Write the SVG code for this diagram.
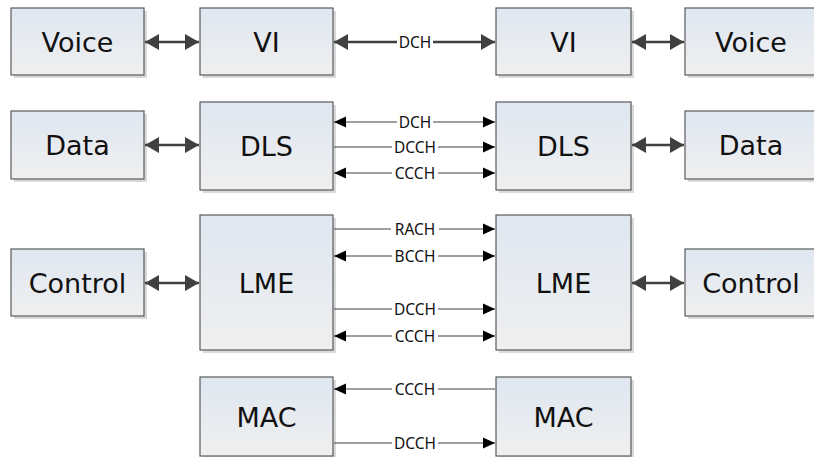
<svg xmlns="http://www.w3.org/2000/svg" width="814" height="457" viewBox="0 0 814 457">
<style>
.box{fill:url(#g);stroke:#5a5a5a;stroke-width:1.2}
.sh{fill:#d9d9d9}
.big{font-family:"DejaVu Sans",Verdana,sans-serif;font-size:27px;fill:#111;text-anchor:middle;dominant-baseline:central}
.lbl{font-family:"Noto Sans","Open Sans",sans-serif;font-size:15.5px;fill:#111;text-anchor:middle}
.bg{fill:#fff}
.thick{stroke:#404040;stroke-width:2.5;fill:none}
.thin{stroke:#404040;stroke-width:1.2;fill:none}
</style>
<defs>
<linearGradient id="g" x1="0" y1="0" x2="0" y2="1">
<stop offset="0" stop-color="#dfe7f1"/>
<stop offset="1" stop-color="#efefef"/>
</linearGradient>
<marker id="ab" markerUnits="userSpaceOnUse" markerWidth="16" markerHeight="18" refX="14" refY="8" orient="auto-start-reverse" viewBox="0 0 16 16">
<path d="M0,0 L14,8 L0,16 Z" fill="#404040"/>
</marker>
<marker id="as" markerUnits="userSpaceOnUse" markerWidth="13" markerHeight="12" refX="12" refY="5.5" orient="auto-start-reverse" viewBox="0 0 13 11">
<path d="M0,0 L12,5.5 L0,11 Z" fill="#000"/>
</marker>
</defs>

<g id="voice-l"><rect class="sh" x="14" y="11" width="133" height="67"/><rect class="box" x="11" y="8" width="133" height="67"/><text class="big" x="77.5" y="42">Voice</text></g>
<g id="vi-l"><rect class="sh" x="203" y="11" width="133" height="67"/><rect class="box" x="200" y="8" width="133" height="67"/><text class="big" x="266.5" y="42">VI</text></g>
<g id="vi-r"><rect class="sh" x="499" y="11" width="135" height="67"/><rect class="box" x="496" y="8" width="135" height="67"/><text class="big" x="563.5" y="42">VI</text></g>
<g id="voice-r"><rect class="sh" x="688" y="11" width="133" height="67"/><rect class="box" x="685" y="8" width="133" height="67"/><text class="big" x="751" y="42">Voice</text></g>

<g id="data-l"><rect class="sh" x="14" y="114" width="133" height="68"/><rect class="box" x="11" y="111" width="133" height="68"/><text class="big" x="77.5" y="145">Data</text></g>
<g id="dls-l"><rect class="sh" x="203" y="105" width="133" height="88"/><rect class="box" x="200" y="102" width="133" height="88"/><text class="big" x="266.5" y="146">DLS</text></g>
<g id="dls-r"><rect class="sh" x="499" y="105" width="135" height="88"/><rect class="box" x="496" y="102" width="135" height="88"/><text class="big" x="563.5" y="146">DLS</text></g>
<g id="data-r"><rect class="sh" x="688" y="114" width="133" height="68"/><rect class="box" x="685" y="111" width="133" height="68"/><text class="big" x="751" y="145">Data</text></g>

<g id="control-l"><rect class="sh" x="14" y="252" width="133" height="67"/><rect class="box" x="11" y="249" width="133" height="67"/><text class="big" x="77.5" y="283">Control</text></g>
<g id="lme-l"><rect class="sh" x="203" y="218" width="133" height="135"/><rect class="box" x="200" y="215" width="133" height="135"/><text class="big" x="266.5" y="283">LME</text></g>
<g id="lme-r"><rect class="sh" x="499" y="218" width="135" height="135"/><rect class="box" x="496" y="215" width="135" height="135"/><text class="big" x="563.5" y="283">LME</text></g>
<g id="control-r"><rect class="sh" x="688" y="252" width="133" height="67"/><rect class="box" x="685" y="249" width="133" height="67"/><text class="big" x="751" y="283">Control</text></g>

<g id="mac-l"><rect class="sh" x="203" y="380" width="133" height="79"/><rect class="box" x="200" y="377" width="133" height="79"/><text class="big" x="266.5" y="417">MAC</text></g>
<g id="mac-r"><rect class="sh" x="499" y="380" width="135" height="79"/><rect class="box" x="496" y="377" width="135" height="79"/><text class="big" x="563.5" y="417">MAC</text></g>

<g id="connectors">
<line class="thick" x1="145" y1="42" x2="199" y2="42" marker-start="url(#ab)" marker-end="url(#ab)"/>
<line class="thick" x1="632" y1="42" x2="684" y2="42" marker-start="url(#ab)" marker-end="url(#ab)"/>
<line class="thick" x1="145" y1="145" x2="199" y2="145" marker-start="url(#ab)" marker-end="url(#ab)"/>
<line class="thick" x1="632" y1="145" x2="684" y2="145" marker-start="url(#ab)" marker-end="url(#ab)"/>
<line class="thick" x1="145" y1="283" x2="199" y2="283" marker-start="url(#ab)" marker-end="url(#ab)"/>
<line class="thick" x1="632" y1="283" x2="684" y2="283" marker-start="url(#ab)" marker-end="url(#ab)"/>

<line class="thick" x1="334" y1="42" x2="495" y2="42" marker-start="url(#ab)" marker-end="url(#ab)"/>
<rect class="bg" x="397" y="35" width="36" height="14"/>
<text class="lbl" x="415" y="47.5">DCH</text>

<line class="thin" x1="334" y1="122" x2="495" y2="122" marker-start="url(#as)" marker-end="url(#as)"/>
<rect class="bg" x="397" y="115" width="36" height="14"/>
<text class="lbl" x="415" y="127.5">DCH</text>
<line class="thin" x1="334" y1="147" x2="495" y2="147" marker-end="url(#as)"/>
<rect class="bg" x="392" y="140" width="46" height="14"/>
<text class="lbl" x="415" y="152.5">DCCH</text>
<line class="thin" x1="334" y1="173" x2="495" y2="173" marker-start="url(#as)" marker-end="url(#as)"/>
<rect class="bg" x="392" y="166" width="46" height="14"/>
<text class="lbl" x="415" y="178.5">CCCH</text>

<line class="thin" x1="334" y1="229" x2="495" y2="229" marker-end="url(#as)"/>
<rect class="bg" x="391" y="222" width="48" height="14"/>
<text class="lbl" x="415" y="234.5">RACH</text>
<line class="thin" x1="334" y1="256" x2="495" y2="256" marker-start="url(#as)" marker-end="url(#as)"/>
<rect class="bg" x="392" y="249" width="46" height="14"/>
<text class="lbl" x="415" y="261.5">BCCH</text>
<line class="thin" x1="334" y1="309" x2="495" y2="309" marker-end="url(#as)"/>
<rect class="bg" x="392" y="302" width="46" height="14"/>
<text class="lbl" x="415" y="314.5">DCCH</text>
<line class="thin" x1="334" y1="336" x2="495" y2="336" marker-start="url(#as)" marker-end="url(#as)"/>
<rect class="bg" x="392" y="329" width="46" height="14"/>
<text class="lbl" x="415" y="341.5">CCCH</text>

<line class="thin" x1="334" y1="389" x2="495" y2="389" marker-start="url(#as)"/>
<rect class="bg" x="392" y="382" width="46" height="14"/>
<text class="lbl" x="415" y="394.5">CCCH</text>
<line class="thin" x1="334" y1="443" x2="495" y2="443" marker-end="url(#as)"/>
<rect class="bg" x="392" y="436" width="46" height="14"/>
<text class="lbl" x="415" y="448.5">DCCH</text>
</g>
</svg>
